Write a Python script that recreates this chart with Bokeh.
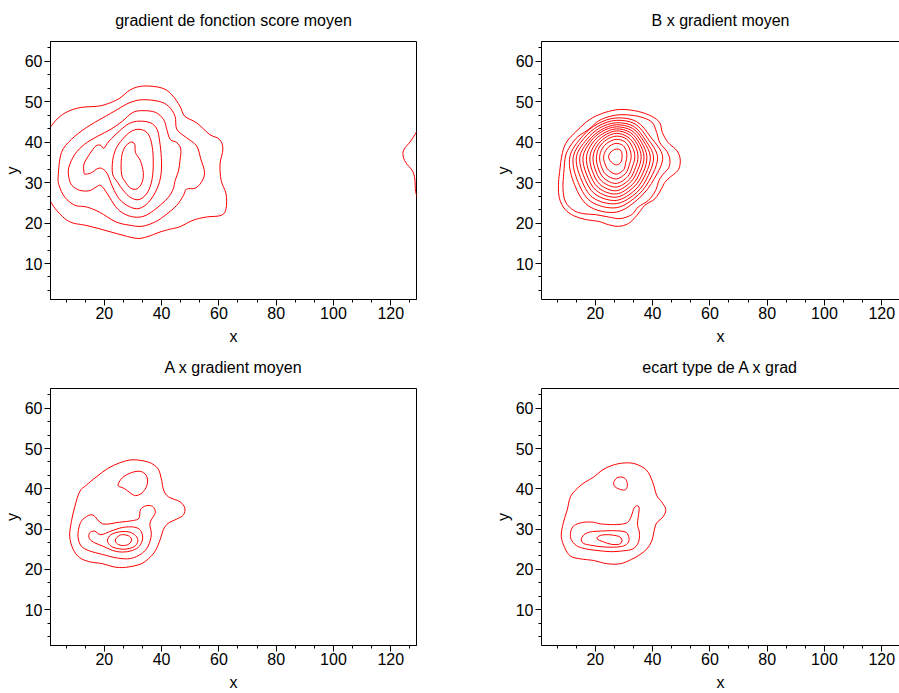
from bokeh.plotting import figure
from bokeh.layouts import column, row
from bokeh.models import Range1d, SingleIntervalTicker, FixedTicker, LinearAxis
from bokeh.embed import file_html
from bokeh.resources import INLINE

# ---------------- texts / axes ----------------
TITLES = ["gradient de fonction score moyen", "B x gradient moyen",
          "A x gradient moyen", "ecart type de A x grad"]
X_LABEL = "x"
Y_LABEL = "y"
X_MIN, X_MAX = 1.2, 129.0
X_MAX_VISIBLE = 126.2          # right-hand panels are cut by the window edge
Y_MIN, Y_MAX = 1.1, 64.9
X_TICK_STEP = 20
Y_TICK_STEP = 10

# ---------------- panel 1 : gradient de fonction score moyen ----------------
score_x = [
    [1.0, 3.9, 7.3, 11.9, 17.7, 21.1, 25.2, 29.2, 33.8, 40.1, 43.6, 46.4, 48.1, 52.2, 56.8, 60.2, 61.4, 60.4,
     60.8, 62.5, 62.5, 60.8, 55.6, 51.0, 46.4, 43.0, 39.5, 34.9, 31.5, 26.9, 22.3, 17.7, 13.1, 9.1, 6.2, 2.8, 1.0],
    [3.9, 5.0, 8.5, 13.7, 19.4, 24.6, 28.6, 33.2, 39.0, 42.4, 44.7, 45.3, 48.7, 52.2, 53.7, 55.0, 53.9, 51.6,
     48.7, 47.6, 45.3, 41.2, 37.8, 33.2, 28.6, 24.0, 18.3, 13.7, 9.7, 6.2, 4.2],
    [7.6, 7.6, 9.7, 13.1, 17.7, 22.3, 26.3, 29.8, 33.2, 37.8, 40.7, 41.8, 43.0, 45.3, 46.7, 46.4, 45.9, 44.7,
     44.1, 42.4, 40.1, 37.2, 33.8, 30.3, 26.9, 24.0, 21.1, 18.8, 17.1, 14.8, 11.4, 8.7],
    [12.9, 12.9, 14.8, 17.1, 18.8, 19.8, 21.7, 25.2, 28.6, 32.1, 36.1, 38.4, 39.3, 39.9, 39.8, 38.4, 35.5, 32.1,
     28.6, 25.2, 22.9, 21.1, 19.4, 17.7, 15.4, 13.3],
    [22.9, 22.9, 24.0, 26.3, 29.2, 32.1, 34.9, 36.3, 37.0, 37.0, 36.3, 34.7, 32.1, 29.2, 26.7, 24.6],
    [26.0, 26.0, 27.1, 29.2, 30.6, 30.9, 32.6, 33.6, 33.2, 31.5, 29.2, 27.4],
    [129.6, 127.0, 124.7, 124.3, 125.2, 127.6, 128.4, 128.7, 129.6],
]
score_y = [
    [43.6, 46.0, 47.6, 48.6, 48.9, 49.5, 50.8, 53.0, 53.9, 53.4, 51.7, 48.9, 46.4, 44.8, 41.9, 40.7, 38.3, 34.6,
     30.5, 27.2, 23.6, 21.9, 21.5, 20.7, 19.1, 18.5, 17.8, 16.6, 16.2, 16.9, 17.8, 18.7, 19.5, 20.0, 21.1, 23.6, 25.6],
    [31.7, 37.4, 40.7, 43.6, 46.0, 48.1, 49.7, 50.5, 50.1, 48.9, 46.4, 43.2, 41.1, 39.1, 35.8, 32.5, 30.1, 28.6,
     28.4, 26.8, 24.4, 21.9, 20.3, 19.2, 19.5, 20.3, 22.7, 24.0, 24.4, 26.4, 29.3],
    [31.3, 33.8, 37.0, 39.5, 41.5, 43.2, 45.2, 47.3, 47.8, 47.4, 45.6, 43.2, 40.7, 39.9, 38.3, 35.4, 32.9, 30.5,
     28.5, 26.4, 24.8, 23.1, 21.7, 21.5, 22.3, 24.0, 27.2, 29.3, 28.9, 28.0, 28.1, 29.3],
    [32.5, 34.6, 37.0, 39.1, 39.2, 38.5, 40.3, 42.7, 44.6, 45.2, 44.8, 43.2, 40.3, 36.2, 32.1, 28.5, 25.2, 23.6,
     24.1, 26.0, 28.9, 32.1, 33.4, 33.5, 32.4, 32.1],
    [32.1, 35.4, 38.3, 40.7, 42.6, 43.2, 42.4, 40.3, 37.0, 32.9, 29.7, 27.2, 25.8, 26.3, 28.0, 30.1],
    [32.1, 36.2, 38.7, 40.0, 39.5, 37.4, 35.4, 32.5, 30.1, 28.5, 28.6, 30.1],
    [43.2, 40.3, 38.3, 36.8, 35.0, 32.9, 30.9, 27.8, 25.8],
]
score_closed = [False, True, True, True, True, True, False]

# ---------------- panel 2 : B x gradient moyen ----------------
b_x = [
    [29.3, 35.0, 39.7, 42.5, 43.4, 45.4, 48.0, 49.4, 49.6, 48.7, 46.0, 44.3, 43.1, 40.8, 37.3, 34.5, 31.6, 28.1,
     24.6, 21.2, 16.5, 12.5, 9.4, 7.5, 7.1, 7.5, 8.5, 10.2, 13.1, 16.5, 20.0, 24.6],
    [29.3, 35.0, 39.7, 41.4, 42.5, 44.9, 46.0, 45.7, 43.7, 42.2, 41.0, 38.5, 35.0, 32.7, 28.7, 24.6, 20.0, 16.0,
     12.5, 9.6, 8.7, 9.0, 9.6, 11.3, 13.8, 17.7, 21.2, 25.2],
    [43.5, 39.3, 34.4, 27.3, 20.7, 15.3, 11.1, 12.3, 17.5, 27.3, 35.5, 40.6],
    [41.7, 38.3, 33.9, 27.3, 21.1, 16.1, 12.3, 13.6, 18.3, 27.3, 35.0, 39.5],
    [40.3, 37.5, 33.4, 27.3, 21.5, 16.9, 13.4, 14.8, 19.1, 27.3, 34.5, 38.5],
    [39.2, 36.8, 33.0, 27.3, 21.9, 17.6, 14.6, 15.9, 19.8, 27.3, 33.9, 37.6],
    [38.0, 36.1, 32.6, 27.3, 22.2, 18.3, 15.7, 16.9, 20.4, 27.3, 33.4, 36.7],
    [37.0, 35.4, 32.2, 27.3, 22.6, 19.0, 16.9, 17.9, 21.1, 27.3, 32.9, 35.8],
    [36.0, 34.7, 31.8, 27.3, 23.0, 19.8, 18.1, 18.9, 21.7, 27.3, 32.4, 34.9],
    [34.9, 33.9, 31.3, 27.3, 23.4, 20.6, 19.2, 19.9, 22.3, 27.3, 31.9, 34.0],
    [33.8, 33.0, 30.9, 27.3, 23.9, 21.4, 20.4, 20.9, 23.0, 27.3, 31.3, 33.0],
    [32.5, 32.0, 30.3, 27.3, 24.4, 22.4, 21.5, 22.0, 23.7, 27.3, 30.6, 31.9],
    [31.0, 30.8, 29.6, 27.3, 25.1, 23.6, 22.9, 23.3, 24.6, 27.3, 29.9, 30.6],
    [29.3, 29.3, 28.7, 27.3, 26.0, 25.1, 24.6, 25.1, 26.0, 27.3, 28.6, 29.2],
]
b_y = [
    [48.1, 47.6, 46.4, 44.8, 42.4, 39.9, 38.3, 36.6, 34.6, 32.9, 31.3, 30.1, 28.5, 26.0, 24.4, 21.9, 19.9, 19.2,
     19.6, 20.4, 20.9, 21.8, 23.4, 26.0, 29.3, 32.5, 37.4, 40.3, 42.5, 44.8, 46.4, 47.6],
    [46.8, 46.4, 45.0, 42.4, 39.9, 37.8, 35.8, 33.8, 32.1, 30.5, 28.0, 25.6, 24.0, 22.1, 21.1, 21.5, 22.1, 22.3,
     23.1, 25.2, 28.5, 32.5, 36.6, 39.1, 41.3, 43.2, 45.3, 46.4],
    [36.4, 41.3, 45.1, 46.0, 44.5, 41.3, 36.4, 30.3, 24.3, 22.7, 26.3, 31.0],
    [36.4, 40.9, 44.5, 45.4, 44.0, 41.0, 36.4, 30.8, 25.4, 23.8, 27.0, 31.4],
    [36.4, 40.5, 43.9, 44.8, 43.5, 40.6, 36.4, 31.3, 26.3, 24.8, 27.6, 31.8],
    [36.4, 40.3, 43.4, 44.3, 43.0, 40.3, 36.4, 31.7, 27.2, 25.6, 28.2, 32.2],
    [36.4, 40.0, 42.9, 43.8, 42.6, 40.1, 36.4, 32.1, 28.0, 26.4, 28.9, 32.5],
    [36.4, 39.7, 42.4, 43.3, 42.1, 39.8, 36.4, 32.5, 28.7, 27.2, 29.5, 32.9],
    [36.4, 39.4, 41.9, 42.8, 41.6, 39.4, 36.4, 33.0, 29.5, 28.0, 30.2, 33.3],
    [36.4, 39.1, 41.3, 42.2, 41.1, 39.1, 36.4, 33.4, 30.3, 28.9, 30.8, 33.7],
    [36.4, 38.7, 40.8, 41.5, 40.6, 38.8, 36.4, 33.8, 31.1, 29.8, 31.5, 34.1],
    [36.4, 38.3, 40.1, 40.7, 39.9, 38.4, 36.4, 34.2, 32.0, 30.9, 32.3, 34.5],
    [36.4, 37.8, 39.2, 39.7, 39.1, 37.9, 36.4, 34.8, 33.1, 32.1, 33.2, 35.0],
    [36.4, 37.2, 38.1, 38.3, 37.9, 37.3, 36.4, 35.5, 34.8, 34.4, 34.8, 35.6],
]
b_closed = [True] * len(b_x)

# ---------------- panel 3 : A x gradient moyen ----------------
a_x = [
    [29.8, 35.5, 38.7, 39.9, 40.7, 42.4, 46.4, 48.1, 47.6, 45.3, 42.4, 40.7, 39.5, 37.8, 35.5, 32.6, 27.4, 23.4,
     19.4, 14.8, 11.4, 9.1, 7.9, 8.5, 9.7, 11.4, 13.7, 17.1, 21.1, 25.2],
    [25.2, 26.9, 30.3, 33.2, 34.9, 34.9, 33.2, 30.9, 29.2, 26.9, 24.9],
    [16.0, 19.4, 25.2, 29.8, 32.1, 32.6, 34.6, 36.9, 37.8, 36.4, 35.9, 36.4, 35.3, 33.0, 29.2, 24.6, 19.4, 14.8,
     11.9, 10.8, 11.4, 13.1],
    [14.8, 16.6, 18.8, 22.3, 26.3, 30.3, 32.6, 33.4, 32.3, 29.8, 26.3, 22.9, 19.4, 16.6, 14.8],
    [21.1, 22.3, 25.2, 28.6, 30.9, 31.7, 30.3, 26.9, 23.4, 21.7],
    [23.8, 25.2, 26.9, 28.8, 29.5, 28.6, 26.6, 24.6],
]
a_y = [
    [47.2, 46.6, 45.0, 42.5, 39.7, 38.0, 36.8, 35.2, 33.5, 32.5, 31.5, 30.0, 27.4, 24.6, 22.7, 21.3, 20.5, 20.6,
     21.4, 21.9, 22.9, 25.0, 28.2, 31.9, 35.6, 39.3, 40.9, 42.9, 45.0, 46.4],
    [41.7, 43.1, 44.2, 44.2, 42.9, 40.9, 39.0, 38.3, 38.9, 40.1, 40.7],
    [33.5, 31.3, 31.7, 32.1, 32.7, 34.8, 35.8, 35.6, 34.1, 32.3, 31.1, 28.6, 25.8, 23.9, 22.7, 22.8, 23.7, 24.6,
     25.8, 28.2, 31.1, 32.8],
    [29.0, 29.5, 28.6, 29.5, 30.4, 30.5, 29.7, 27.8, 25.8, 24.7, 24.3, 24.7, 25.8, 26.6, 27.6],
    [27.3, 28.6, 29.3, 29.3, 28.4, 27.0, 25.6, 25.0, 25.4, 26.2],
    [27.3, 28.4, 28.6, 28.2, 27.3, 26.3, 25.9, 26.3],
]
a_closed = [True] * len(a_x)

# ---------------- panel 4 : ecart type de A x grad ----------------
sd_x = [
    [29.8, 33.9, 37.9, 40.0, 41.4, 43.1, 44.6, 43.7, 41.4, 40.5, 39.7, 37.9, 35.6, 32.7, 28.7, 24.1, 19.4, 14.8,
     11.3, 9.3, 8.1, 8.8, 10.2, 11.3, 13.7, 16.5, 19.4, 22.3, 25.8],
    [26.4, 27.5, 29.3, 30.7, 31.2, 30.6, 28.9, 26.9],
    [11.9, 13.1, 16.0, 19.4, 21.7, 26.4, 29.8, 31.6, 32.7, 33.5, 34.5, 35.3, 35.0, 34.7, 35.4, 35.0, 33.1, 29.8,
     25.2, 20.6, 16.5, 13.4, 11.6, 11.3],
    [15.1, 16.0, 18.3, 21.7, 26.4, 30.4, 31.6, 31.6, 29.8, 26.4, 22.3, 18.3, 16.0],
    [20.6, 21.7, 24.6, 28.1, 29.3, 28.5, 25.8, 22.9],
]
sd_y = [
    [46.4, 46.2, 44.6, 41.7, 38.4, 36.8, 34.9, 33.1, 31.5, 29.5, 27.0, 25.0, 23.7, 22.5, 21.4, 21.4, 22.2, 22.6,
     23.3, 25.4, 28.2, 31.5, 34.8, 38.0, 40.1, 41.7, 42.9, 44.6, 45.8],
    [41.5, 42.7, 42.9, 42.3, 40.9, 39.8, 39.8, 40.5],
    [30.3, 31.1, 31.7, 31.7, 31.3, 31.1, 31.3, 31.9, 33.5, 35.2, 35.8, 35.2, 33.1, 31.1, 29.0, 26.6, 25.1, 24.6,
     24.4, 24.7, 25.1, 25.9, 27.4, 29.0],
    [27.3, 28.6, 29.3, 29.5, 29.6, 29.3, 28.2, 26.8, 25.8, 25.5, 25.6, 26.0, 26.4],
    [27.6, 28.4, 28.6, 28.2, 27.3, 26.3, 26.2, 26.8],
]
sd_closed = [True] * len(sd_x)

# ---------------- styling ----------------
FONT = "Liberation Sans"
FONT_SIZE = "16px"
LINE_COLOR = "#ff0000"


def smooth_segments(xs, ys, closed):
    """Cubic (Catmull-Rom) segments passing through the read contour points."""
    n = len(xs)
    seg = {k: [] for k in ("x0", "y0", "x1", "y1", "cx0", "cy0", "cx1", "cy1")}
    last = n if closed else n - 1
    for i in range(last):
        i0 = (i - 1) % n if closed else max(i - 1, 0)
        i2 = (i + 1) % n
        i3 = (i + 2) % n if closed else min(i + 2, n - 1)
        seg["x0"].append(xs[i]); seg["y0"].append(ys[i])
        seg["x1"].append(xs[i2]); seg["y1"].append(ys[i2])
        seg["cx0"].append(xs[i] + (xs[i2] - xs[i0]) / 6.0)
        seg["cy0"].append(ys[i] + (ys[i2] - ys[i0]) / 6.0)
        seg["cx1"].append(xs[i2] - (xs[i3] - xs[i]) / 6.0)
        seg["cy1"].append(ys[i2] - (ys[i3] - ys[i]) / 6.0)
    return seg


def make_panel(title, xs_list, ys_list, closed_list, width, height,
               border_bottom, right_cut):
    x_end = X_MAX_VISIBLE if right_cut else X_MAX
    p = figure(width=width, height=height, output_backend="svg", toolbar_location=None,
               x_range=Range1d(X_MIN, x_end), y_range=Range1d(Y_MIN, Y_MAX),
               min_border_left=48, min_border_right=0 if right_cut else 75,
               min_border_top=41, min_border_bottom=border_bottom,
               background_fill_color="white", border_fill_color="white")
    p.grid.visible = False

    p.title.text = title
    p.title.align = "center"
    p.title.vertical_align = "top"
    p.title.text_font = FONT
    p.title.text_font_size = FONT_SIZE
    p.title.text_font_style = "normal"
    p.title.text_color = "black"
    p.title.standoff = 22

    if right_cut:
        # the right edge of these panels lies outside the window: only the top edge is drawn
        p.outline_line_color = None
        top_edge = LinearAxis(ticker=FixedTicker(ticks=[]), axis_line_color="black", axis_line_width=1,
                              major_tick_out=0, major_tick_in=0, minor_tick_out=0, minor_tick_in=0,
                              major_label_text_font_size="0px", major_label_standoff=0,
                              axis_label_standoff=0)
        p.add_layout(top_edge, "above")
    else:
        p.outline_line_color = "black"
        p.outline_line_width = 1
        p.outline_line_alpha = 1.0

    xa = p.below[0]
    ya = p.left[0]
    xa.ticker = SingleIntervalTicker(interval=X_TICK_STEP, num_minor_ticks=3)
    ya.ticker = SingleIntervalTicker(interval=Y_TICK_STEP, num_minor_ticks=3)
    xa.axis_label = X_LABEL
    ya.axis_label = Y_LABEL
    for ax in (xa, ya):
        ax.axis_line_color = "black"
        ax.major_tick_line_color = "black"
        ax.minor_tick_line_color = "black"
        ax.major_tick_out = 6
        ax.major_tick_in = 0
        ax.minor_tick_out = 3
        ax.minor_tick_in = 0
        ax.major_label_text_font = FONT
        ax.major_label_text_font_size = FONT_SIZE
        ax.major_label_text_color = "black"
        ax.axis_label_text_font = FONT
        ax.axis_label_text_font_size = FONT_SIZE
        ax.axis_label_text_font_style = "normal"
        ax.axis_label_text_color = "black"
    xa.major_label_standoff = 1
    ya.major_label_standoff = 2
    xa.axis_label_standoff = 6
    ya.axis_label_standoff = 1

    for xs, ys, closed in zip(xs_list, ys_list, closed_list):
        seg = smooth_segments(xs, ys, closed)
        p.bezier(x0="x0", y0="y0", x1="x1", y1="y1", cx0="cx0", cy0="cy0",
                 cx1="cx1", cy1="cy1", source=seg, line_color=LINE_COLOR, line_width=1)
    return p


p1 = make_panel(TITLES[0], score_x, score_y, score_closed, 491, 347, 45, False)
p2 = make_panel(TITLES[1], b_x, b_y, b_closed, 408, 347, 45, True)
p3 = make_panel(TITLES[2], a_x, a_y, a_closed, 491, 346, 44, False)
p4 = make_panel(TITLES[3], sd_x, sd_y, sd_closed, 408, 346, 44, True)

layout = column(row(p1, p2), row(p3, p4))

open("out.html", "w").write(file_html(layout, INLINE))
